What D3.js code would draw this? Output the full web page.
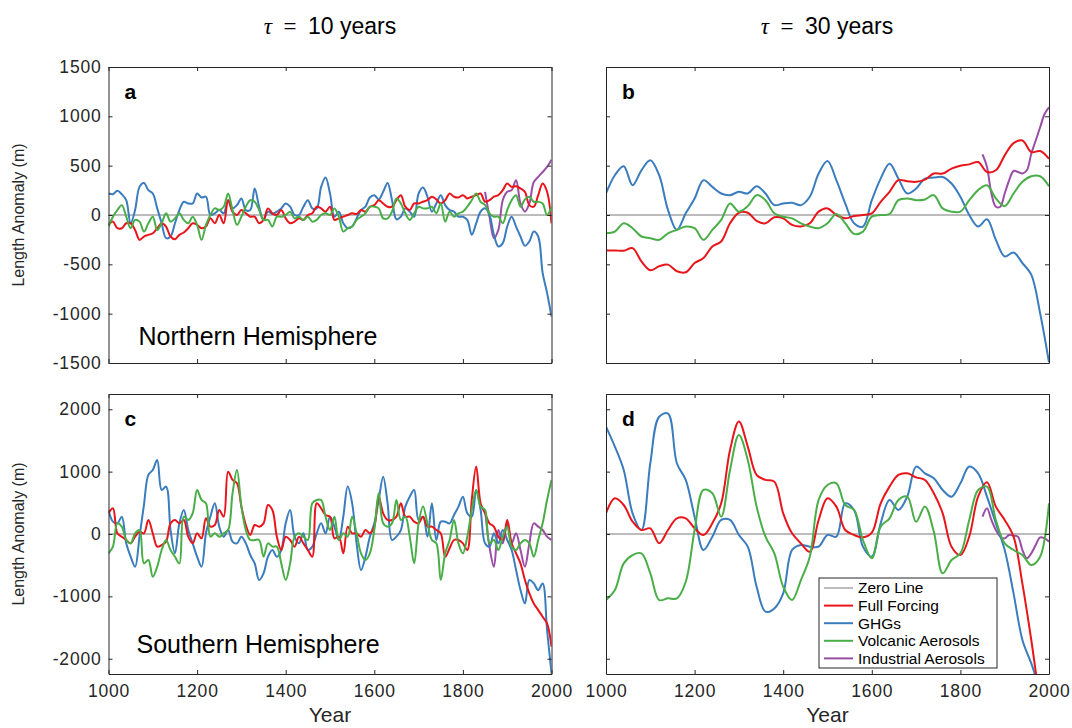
<!DOCTYPE html>
<meta charset="utf-8">
<head>
  <title>Length anomaly</title>
  <script src="https://d3js.org/d3.v7.min.js"></script>
  <style>
    body { margin: 0; background: #fff; }
    text { font-family: "Liberation Sans", Arial, Helvetica, sans-serif; }
  </style>
</head>
<body>
<div id="display"></div>
<script>
// years
var years10 = d3.range(1000, 2001, 10);
var years20 = d3.range(1000, 2001, 20);
var yearsInd = d3.range(1850, 2001, 10);

var seriesNames = ["Zero Line", "Full Forcing", "GHGs", "Volcanic Aerosols", "Industrial Aerosols"];
var seriesColors = ["#a6a6a6", "#e8151b", "#3a7cbd", "#4aae48", "#9a4ea5"];

// panel a : NH, tau = 10
var aFull = [-100,-67,-134,-134,-84,-84,-151,-252,-218,-201,
  -185,-134,-84,-117,-218,-245,-201,-178,-134,-84,
  -100,-134,-117,-34,-84,0,-84,150,34,0,
  50,17,-17,-17,-84,-50,67,17,0,50,
  -34,-84,-67,-34,-50,0,17,84,67,34,
  84,-50,-34,-17,0,17,10,50,34,84,
  100,150,117,84,84,150,201,84,50,117,
  117,134,150,185,158,117,150,218,185,178,
  201,168,185,201,218,134,150,185,201,252,
  319,285,292,268,235,100,84,201,319,235,
  -84];
var aGhg = [218,211,245,211,150,-84,50,285,325,252,
  218,67,-84,-235,-218,-84,50,134,117,117,
  218,178,185,0,17,50,17,150,67,100,
  168,50,50,268,84,-50,34,10,34,67,
  117,84,0,0,84,150,67,67,285,380,
  218,-17,34,-84,-134,-117,-34,50,84,178,
  201,158,235,325,150,-44,-17,67,34,-17,
  218,278,185,34,117,201,100,50,34,-17,
  -17,-50,-201,-84,34,67,0,-201,-319,-285,
  -117,-17,-117,-218,-312,-268,-168,-218,-587,-789,
  -1030];
var aVolc = [-117,-17,50,100,-17,-134,-50,-67,-168,-84,
  -17,-151,-84,17,-67,-34,17,-50,-84,-17,
  -100,-252,-100,0,67,50,84,218,50,-100,
  -17,84,150,134,50,-50,-50,-117,-17,-17,
  0,34,-34,-17,-50,-17,-67,-50,0,17,
  0,67,-17,-168,-134,-117,-50,-17,17,84,
  84,67,-34,-34,34,168,117,17,-50,17,
  84,67,67,84,17,117,-67,34,-17,17,
  34,84,150,218,134,100,17,-17,-17,-84,
  50,150,201,84,158,185,134,134,117,0,
  84];
var aInd = [235,-17,-235,-151,150,235,252,352,117,34,117,335,386,436,487,560];

// panel b : NH, tau = 30
var bFull = [-359,-359,-362,-336,-470,-560,-520,-503,-570,-580,
  -487,-436,-319,-268,-84,23,23,-60,-84,-23,
  -34,-100,-117,-84,34,67,0,-34,-10,0,
  17,134,235,353,342,336,359,420,420,470,
  500,513,537,436,453,604,728,755,638,648,
  570];
var bGhg = [218,403,493,302,453,554,403,50,-151,17,
  168,353,285,218,201,235,218,292,218,100,
  117,124,100,185,420,547,353,117,-84,-117,
  150,369,520,369,218,268,369,379,386,319,
  185,0,-117,-44,-252,-420,-380,-487,-604,-997,
  -1493];
var bVolc = [-185,-168,-84,-134,-218,-235,-252,-185,-151,-117,
  -134,-252,-151,-50,117,34,90,201,150,17,
  -17,-34,-84,-117,-134,-84,10,-84,-191,-168,
  -17,0,10,150,168,150,158,201,67,34,
  34,150,252,302,168,90,218,336,393,393,
  292];
var bInd = [614,487,218,84,84,218,352,446,436,420,453,621,755,889,1024,1091];

// panel c : SH, tau = 10
var cFull = [332,412,11,-43,-96,-150,-43,37,11,225,
  11,-203,-177,-123,171,225,171,225,-43,-150,
  11,-70,251,118,144,385,278,1000,867,813,
  439,144,-16,144,118,171,465,385,-43,-257,
  -43,-96,-203,-43,-150,-257,-364,492,412,305,
  278,-70,-43,-310,118,11,11,-43,64,11,
  118,599,332,225,225,278,492,278,278,198,
  171,278,118,118,64,11,-364,-230,-96,-96,
  -150,-257,546,1081,492,332,171,118,-43,-96,
  225,-150,-310,-471,-738,-952,-1113,-1220,-1327,-1434,
  -1808];
var cGhg = [385,198,171,278,-150,-364,-524,-43,465,947,
  1027,1188,706,760,64,-310,171,385,64,-150,
  -364,-524,11,278,492,118,-43,64,-123,-150,
  -43,-150,-337,-471,-738,-631,-364,-257,-364,-257,
  171,385,-43,-150,11,-257,-203,11,171,11,
  278,118,-96,278,760,492,-150,-578,-364,-43,
  171,546,920,492,-96,-43,64,439,599,706,
  225,278,-43,492,-96,198,198,171,305,439,
  599,332,278,706,385,-150,-203,11,-150,64,
  -96,-257,-578,-899,-1113,-738,-792,-899,-792,-1541,
  -2236];
var cVolc = [-310,-203,171,118,-96,-150,11,64,-471,-417,
  -685,-524,-257,-96,-257,-364,-471,278,225,332,
  706,546,492,-43,11,-43,11,64,653,1027,
  439,64,-96,-96,-96,-364,-150,-203,-203,-471,
  -738,-471,-43,11,-43,-96,492,546,546,278,
  64,278,-96,11,-43,278,11,-310,-417,-310,
  64,653,171,118,171,546,225,278,-43,-471,
  171,439,171,-96,-150,-738,-310,-96,225,-150,
  -310,-43,385,706,439,385,-150,-96,-257,-43,
  118,-203,-257,-150,-96,-150,-364,-96,171,546,
  867];
var cInd = [385,-203,-524,64,-150,171,-150,11,-257,-524,-150,171,118,64,-43,-96];

// panel d : SH, tau = 30
var dFull = [332,572,465,198,64,91,-150,64,251,251,
  91,-16,171,492,1348,1803,1402,947,867,840,
  332,11,-150,-284,225,572,439,64,-16,-54,
  21,492,760,947,973,909,867,653,332,-203,
  -337,-40,600,830,439,225,-43,-800,-1700,-2700,
  -3500];
var dGhg = [1722,1402,1027,332,64,1134,1880,1930,1134,867,
  278,-257,-43,225,225,-16,-203,-845,-1246,-1193,
  -952,-257,-177,-203,-203,-16,-43,492,385,-203,
  -364,171,546,385,599,1081,973,893,706,599,
  813,1081,973,599,171,-257,-952,-1700,-2075,-2500,
  -2900];
var dVolc = [-1059,-899,-471,-337,-310,-631,-1059,-1032,-1032,-765,
  64,706,653,278,1027,1588,1188,439,-43,-310,
  -845,-1059,-738,-364,546,786,813,465,385,-96,
  -390,118,251,546,599,198,439,37,-631,-417,
  -310,225,706,760,225,-150,-257,-337,-498,-364,
  492];
var dInd = [278,412,225,64,-43,-70,-16,-27,-43,-257,-390,-310,-177,-54,-70,-123];

var xTicks = [1000, 1200, 1400, 1600, 1800, 2000];
var yTicksTop = [-1500, -1000, -500, 0, 500, 1000, 1500];
var yTicksBottom = [-2000, -1000, 0, 1000, 2000];

var width = 1072, height = 728;
var svg = d3.select("#display").append("svg")
    .attr("width", width)
    .attr("height", height);

var cols = [[108.5, 551.5], [606, 1049]];
var rows = [[67, 363], [394, 674]];

var panels = [
  {id: "a", col: 0, row: 0, domain: [-1500, 1500], ticks: yTicksTop, years: years10, full: aFull, ghg: aGhg, volc: aVolc, ind: aInd},
  {id: "b", col: 1, row: 0, domain: [-1500, 1500], ticks: yTicksTop, years: years20, full: bFull, ghg: bGhg, volc: bVolc, ind: bInd},
  {id: "c", col: 0, row: 1, domain: [-2245, 2245], ticks: yTicksBottom, years: years10, full: cFull, ghg: cGhg, volc: cVolc, ind: cInd},
  {id: "d", col: 1, row: 1, domain: [-2245, 2245], ticks: yTicksBottom, years: years20, full: dFull, ghg: dGhg, volc: dVolc, ind: dInd}
];

// plain integers with a hyphen minus, like the original
var fmt = function(d) { return String(d); };

panels.forEach(function(p) {
  var x = d3.scaleLinear().domain([1000, 2000]).range(cols[p.col]);
  var y = d3.scaleLinear().domain(p.domain).range([rows[p.row][1], rows[p.row][0]]);
  var g = svg.append("g");

  var clipId = "clip-" + p.id;
  g.append("clipPath").attr("id", clipId)
    .append("rect")
      .attr("x", x(1000)).attr("y", y(p.domain[1]))
      .attr("width", x(2000) - x(1000)).attr("height", y(p.domain[0]) - y(p.domain[1]));

  var plot = g.append("g").attr("clip-path", "url(#" + clipId + ")");

  // zero line
  plot.append("line")
    .attr("x1", x(1000)).attr("x2", x(2000))
    .attr("y1", y(0)).attr("y2", y(0))
    .attr("stroke", seriesColors[0]).attr("stroke-width", 1.5);

  var line = d3.line()
    .x(function(d) { return x(d[0]); })
    .y(function(d) { return y(d[1]); })
    .curve(d3.curveCatmullRom.alpha(0.5));

  var sets = [
    [p.years, p.full, seriesColors[1]],
    [p.years, p.ghg, seriesColors[2]],
    [p.years, p.volc, seriesColors[3]],
    [yearsInd, p.ind, seriesColors[4]]
  ];
  // industrial first, then the rest
  [sets[3], sets[1], sets[0], sets[2]].forEach(function(s) {
    plot.append("path")
      .datum(d3.zip(s[0], s[1]))
      .attr("fill", "none")
      .attr("stroke", s[2])
      .attr("stroke-width", 2)
      .attr("stroke-linejoin", "round")
      .attr("d", line);
  });

  // axes, ticks pointing inward on all four sides
  var left = d3.axisLeft(y).tickValues(p.ticks).tickSize(-4).tickPadding(7).tickSizeOuter(0).tickFormat(fmt);
  var right = d3.axisRight(y).tickValues(p.ticks).tickSize(-4).tickFormat("").tickSizeOuter(0);
  var top = d3.axisTop(x).tickValues(xTicks).tickSize(-4).tickFormat("").tickSizeOuter(0);
  var bottom = d3.axisBottom(x).tickValues(xTicks).tickSize(-4).tickPadding(11).tickSizeOuter(0).tickFormat(fmt);
  if (p.col === 1) left.tickFormat("");
  if (p.row === 0) bottom.tickFormat("");

  g.append("g").attr("transform", "translate(" + x(1000) + ",0)").call(left);
  g.append("g").attr("transform", "translate(" + x(2000) + ",0)").call(right);
  g.append("g").attr("transform", "translate(0," + y(p.domain[1]) + ")").call(top);
  g.append("g").attr("transform", "translate(0," + y(p.domain[0]) + ")").call(bottom);

  g.selectAll(".domain, .tick line").attr("stroke", "#262626").attr("stroke-width", 1);
  g.selectAll(".tick text")
    .attr("fill", "#262626")
    .style("font-size", "17.5px")
    .style("letter-spacing", "0.8px");

  // panel letter
  g.append("text")
    .attr("x", x(1000) + 16)
    .attr("y", y(p.domain[1]) + 32)
    .style("font-size", "21px")
    .style("font-weight", "bold")
    .text(p.id);
});

// hemisphere labels
var xl = d3.scaleLinear().domain([1000, 2000]).range(cols[0]);
svg.append("text").attr("x", xl(1000) + 30).attr("y", 345)
  .style("font-size", "25px").text("Northern Hemisphere");
svg.append("text").attr("x", xl(1000) + 28).attr("y", 653)
  .style("font-size", "25px").text("Southern Hemisphere");

// column titles
[["10", 330], ["30", 827]].forEach(function(t) {
  var tt = svg.append("text").attr("x", t[1]).attr("y", 34)
    .attr("text-anchor", "middle").style("font-size", "23px");
  tt.append("tspan").style("font-family", "'Liberation Serif', serif").style("font-style", "italic").text("\u03C4");
  tt.append("tspan").style("font-family", "'Liberation Serif', serif").text("\u2002=\u2002");
  tt.append("tspan").text(t[0] + " years");
});

// x labels
cols.forEach(function(c) {
  svg.append("text").attr("x", (c[0] + c[1]) / 2).attr("y", 722)
    .attr("text-anchor", "middle").attr("fill", "#262626")
    .style("font-size", "21px").text("Year");
});

// y labels
rows.forEach(function(r) {
  svg.append("text")
    .attr("transform", "translate(24," + ((r[0] + r[1]) / 2) + ") rotate(-90)")
    .attr("text-anchor", "middle").attr("fill", "#262626")
    .style("font-size", "16px").text("Length Anomaly (m)");
});

// legend in panel d
var lg = svg.append("g").attr("transform", "translate(819,578)");
lg.append("rect").attr("width", 178).attr("height", 90)
  .attr("fill", "#fff").attr("stroke", "#262626").attr("stroke-width", 1);
seriesNames.forEach(function(n, i) {
  var yy = 10 + i * 17.6;
  lg.append("line").attr("x1", 5).attr("x2", 34).attr("y1", yy).attr("y2", yy)
    .attr("stroke", seriesColors[i]).attr("stroke-width", i === 0 ? 1.5 : 2);
  lg.append("text").attr("x", 39).attr("y", yy).attr("dy", "0.35em")
    .style("font-size", "15.5px").text(n);
});
</script>
</body>
